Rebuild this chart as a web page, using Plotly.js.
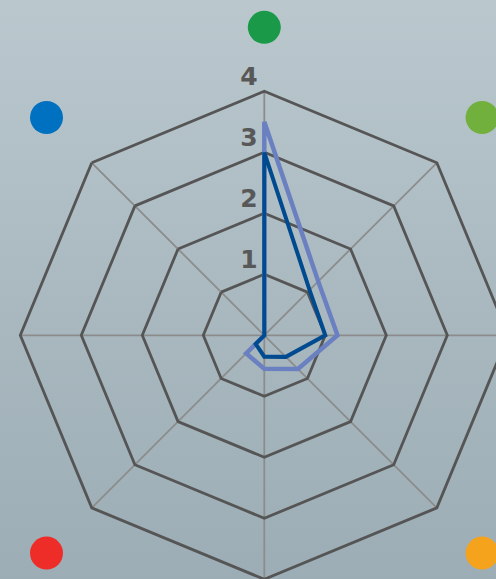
<!DOCTYPE html>
<html>
<head>
<meta charset="utf-8">
<script src="https://cdn.plot.ly/plotly-3.0.1.min.js"></script>
<style>
  html, body { margin: 0; padding: 0; width: 496px; height: 579px; overflow: hidden; }
  body { position: relative; background: linear-gradient(to bottom, #bac8ce 0%, #a9b8bf 55%, #9cadb5 100%); }
  #chart { position: absolute; left: -100px; top: -40px; width: 720px; height: 720px; }
</style>
</head>
<body>
<div id="chart"></div>
<script>
// ---- data ----
const categories = ["C1", "C2", "C3", "C4", "C5", "C6", "C7", "C8"];
const seriesDark  = [3.0, 1.05, 1.0, 0.5, 0.35, 0.2, 0.0, 0.0];
const seriesLight = [3.5, 1.25, 1.2, 0.78, 0.55, 0.42, 0.0, 0.0];
const categoryColors = ["#1a9a48", "#72b03e", "#4aa0d8", "#f5a31c", "#8a5fb0", "#ee2c28", "#e85aa0", "#0071c1"];
const radialTicks = [1, 2, 3, 4];
const radialTickLabels = ["1", "2", "3", "4"];

// ---- layout geometry (pixels, figure coordinates) ----
const W = 720, H = 720;
const cx = 364.3, cy = 375.3;   // polar centre inside the figure
const R = 244;                  // outer ring radius
const Rd = 330;                 // radius of the polar used for the category dots
const dotRadiusPx = 308;
const rMax = 4;
const labelShiftY = 14;
const labelShiftX = -2.5;

function closed(a) { return a.concat([a[0]]); }
function dom(rad, dx, dy) {
  dx = dx || 0; dy = dy || 0;
  return { x: [(cx - rad + dx) / W, (cx + rad + dx) / W], y: [(H - cy - rad + dy) / H, (H - cy + rad + dy) / H] };
}

const traces = [
  {
    type: "scatterpolar", subplot: "polar",
    r: closed(seriesLight), theta: closed(categories),
    mode: "lines", line: { color: "#6b80c0", width: 4.5 },
    hoverinfo: "skip", showlegend: false
  },
  {
    type: "scatterpolar", subplot: "polar",
    r: closed(seriesDark), theta: closed(categories),
    mode: "lines", line: { color: "#004b8f", width: 4 },
    hoverinfo: "skip", showlegend: false
  },
  {
    type: "scatterpolar", subplot: "polar3",
    r: categories.map(() => rMax * dotRadiusPx / R), theta: categories,
    mode: "markers",
    marker: { size: 33, color: categoryColors, line: { width: 0 } },
    hoverinfo: "skip", showlegend: false
  },
  {
    type: "scatterpolar", subplot: "polar2",
    r: [], theta: [], mode: "lines", hoverinfo: "skip", showlegend: false
  }
];

const ringColor = "#555555";
const spokeColor = "#8c8c8c";
const hiddenAngular = {
  type: "category", categoryarray: categories,
  direction: "clockwise", rotation: 90,
  showticklabels: false, ticks: "", showline: false, showgrid: false
};

const layout = {
  width: W, height: H,
  margin: { l: 0, r: 0, t: 0, b: 0, pad: 0 },
  paper_bgcolor: "rgba(0,0,0,0)",
  plot_bgcolor: "rgba(0,0,0,0)",
  showlegend: false,
  polar3: {
    domain: dom(Rd),
    bgcolor: "rgba(0,0,0,0)",
    gridshape: "linear",
    radialaxis: { range: [0, rMax * Rd / R], visible: false, showgrid: false, showline: false, showticklabels: false, ticks: "" },
    angularaxis: hiddenAngular
  },
  polar: {
    domain: dom(R),
    bgcolor: "rgba(0,0,0,0)",
    gridshape: "linear",
    radialaxis: {
      range: [0, rMax], angle: 90,
      tickvals: radialTicks, showticklabels: false,
      ticks: "", showline: false,
      showgrid: true, gridcolor: ringColor, gridwidth: 2.8
    },
    angularaxis: {
      type: "category", categoryarray: categories,
      direction: "clockwise", rotation: 90,
      showticklabels: false, ticks: "",
      showline: true, linecolor: ringColor, linewidth: 2.8,
      showgrid: true, gridcolor: spokeColor, gridwidth: 1.8
    }
  },
  polar2: {
    domain: dom(R, labelShiftX, labelShiftY),
    bgcolor: "rgba(0,0,0,0)",
    gridshape: "linear",
    radialaxis: {
      range: [0, rMax], angle: 90, side: "counterclockwise", tickangle: 90,
      tickvals: radialTicks, ticktext: radialTickLabels,
      showticklabels: true, ticks: "",
      showline: false, showgrid: false,
      tickfont: { family: "'DejaVu Sans', sans-serif", size: 25, color: "#585858", weight: "bold" }
    },
    angularaxis: hiddenAngular
  }
};

Plotly.newPlot("chart", traces, layout, { staticPlot: true, displayModeBar: false });
</script>
</body>
</html>
